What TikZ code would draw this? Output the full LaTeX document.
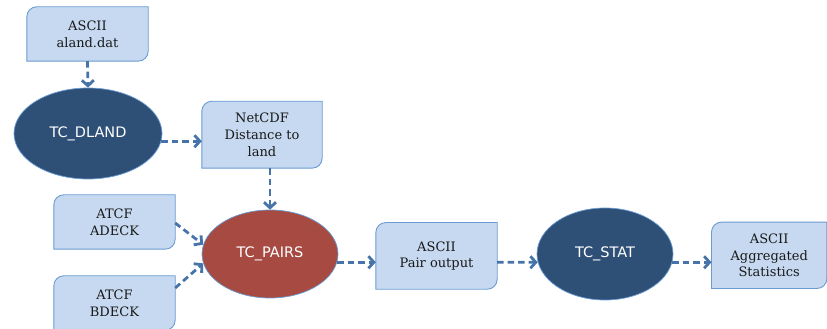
\documentclass[tikz,border=0pt]{standalone}
\usepackage{fontspec}
\setmainfont{DejaVu Serif}
\newfontfamily\procfont{DejaVu Sans}
\usetikzlibrary{arrows.meta, shapes.geometric, backgrounds}
\definecolor{filecol}{HTML}{C6D9F0}
\definecolor{fileedge}{HTML}{6A9BD3}
\definecolor{toolcol}{HTML}{2E5077}
\definecolor{pairscol}{HTML}{A64A42}
\definecolor{flowcol}{HTML}{4573AA}

\begin{document}
\begin{tikzpicture}[
    x=1pt, y=1pt,
    filebox/.style={rectangle, minimum width=121pt, minimum height=54pt,
                    inner sep=0pt, align=center, text=black!90,
                    font=\fontsize{13}{16.6}\selectfont},
    boxline/.style={fill=filecol, draw=fileedge, line width=0.9pt},
    tool/.style={ellipse, fill=toolcol, draw=fileedge, line width=0.7pt,
                 minimum width=136pt, minimum height=90pt, inner sep=0pt,
                 text=white, font=\procfont\fontsize{14.5}{17}\selectfont},
    flow/.style={-{Straight Barb[length=5.5pt, width=12pt]},
                 line width=2.8pt, flowcol, dash pattern=on 6.5pt off 4pt},
  ]

  \def\rc{10pt}   % corner radius of the file boxes

  \useasboundingbox (0,0) rectangle (827,329);

  % =========================================================
  %  files and tools
  % =========================================================
  \node[filebox] (aland) at (87.5,295) {ASCII\\aland.dat};
  \node[tool, minimum width=148pt, minimum height=91pt] (dland)
    at (88,195.5) {TC\_DLAND};
  \node[filebox, minimum width=120pt, minimum height=66.5pt] (distland)
    at (262,194.3) {NetCDF\\Distance to\\land};

  \node[filebox] (adeck) at (114.5,107) {ATCF\\ADECK};
  \node[filebox] (bdeck) at (114.5,26) {ATCF\\BDECK};
  \node[tool, fill=pairscol, minimum height=88pt] (pairs)
    at (270,75) {TC\_PAIRS};

  \node[filebox, minimum height=66.3pt] (pairout)
    at (436.5,73.1) {ASCII\\Pair output};
  \node[tool, minimum height=92pt] (tcstat) at (605,75) {TC\_STAT};
  \node[filebox, minimum width=115pt, minimum height=66pt] (aggr)
    at (769.2,73.7) {ASCII\\Aggregated\\Statistics};

  % file boxes: round top-left and bottom-right corners only
  \begin{scope}[on background layer]
    \foreach \n in {aland, distland, adeck, bdeck, pairout, aggr}{
      \filldraw[boxline]
        ([xshift=\rc]\n.north west) -- (\n.north east)
        -- ([yshift=\rc]\n.south east)
        arc[start angle=0, end angle=-90, radius=\rc]
        -- (\n.south west) -- ([yshift=-\rc]\n.north west)
        arc[start angle=180, end angle=90, radius=\rc] -- cycle;
    }
  \end{scope}

  % =========================================================
  %  data flow
  % =========================================================
  \draw[flow] (aland.south) -- (dland.north);
  \draw[flow] (dland.-6) -- (dland.-6 -| distland.west);
  \draw[flow] (pairs.north |- distland.south) -- (pairs.north);

  \draw[flow] ([yshift=-1pt]adeck.east) -- (pairs.172);
  \draw[flow] ([yshift=15pt]bdeck.east) -- (pairs.188);

  \draw[flow] (pairs.-7) -- (pairs.-7 -| pairout.west);
  \draw[flow] (pairs.-7 -| pairout.east) -- (tcstat.187);
  \draw[flow] (tcstat.-7) -- (tcstat.-7 -| aggr.west);

\end{tikzpicture}
\end{document}
